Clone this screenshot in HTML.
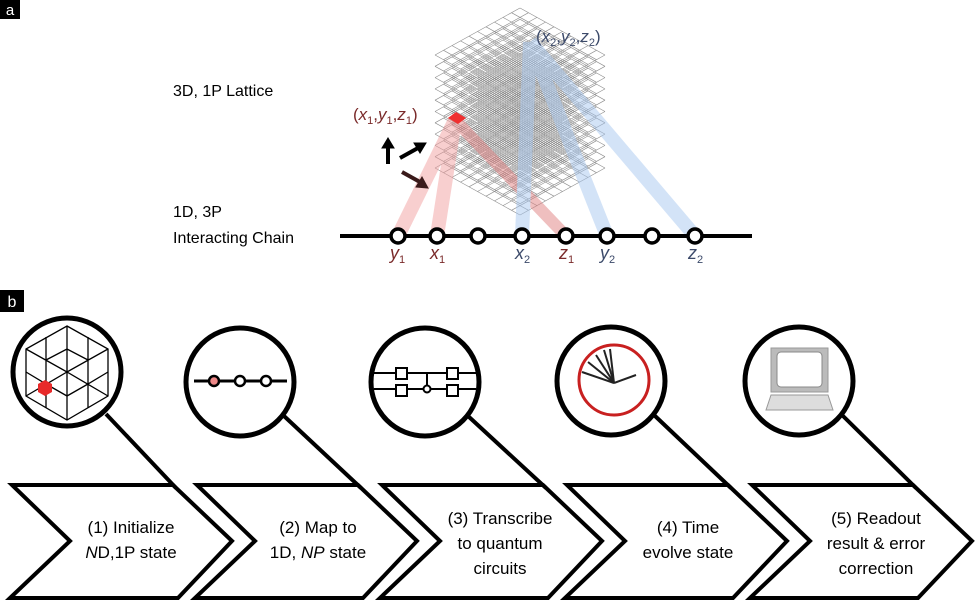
<!DOCTYPE html>
<html><head><meta charset="utf-8"><style>
body{margin:0;background:#fff;width:975px;height:603px;overflow:hidden;font-family:"Liberation Sans",sans-serif}
</style></head><body>
<svg width="975" height="603" viewBox="0 0 975 603" xmlns="http://www.w3.org/2000/svg" font-family="Liberation Sans, sans-serif">
<defs>
<g id="layer" stroke="#666" stroke-width="0.6" fill="none">
<line x1="520" y1="0" x2="435" y2="47"/>
<line x1="528.5" y1="4.7" x2="443.5" y2="51.7"/>
<line x1="537" y1="9.4" x2="452" y2="56.4"/>
<line x1="545.5" y1="14.1" x2="460.5" y2="61.1"/>
<line x1="554" y1="18.8" x2="469" y2="65.8"/>
<line x1="562.5" y1="23.5" x2="477.5" y2="70.5"/>
<line x1="571" y1="28.2" x2="486" y2="75.2"/>
<line x1="579.5" y1="32.9" x2="494.5" y2="79.9"/>
<line x1="588" y1="37.6" x2="503" y2="84.6"/>
<line x1="596.5" y1="42.3" x2="511.5" y2="89.3"/>
<line x1="605" y1="47" x2="520" y2="94"/>
<line x1="520" y1="0" x2="605" y2="47"/>
<line x1="511.5" y1="4.7" x2="596.5" y2="51.7"/>
<line x1="503" y1="9.4" x2="588" y2="56.4"/>
<line x1="494.5" y1="14.1" x2="579.5" y2="61.1"/>
<line x1="486" y1="18.8" x2="571" y2="65.8"/>
<line x1="477.5" y1="23.5" x2="562.5" y2="70.5"/>
<line x1="469" y1="28.2" x2="554" y2="75.2"/>
<line x1="460.5" y1="32.9" x2="545.5" y2="79.9"/>
<line x1="452" y1="37.6" x2="537" y2="84.6"/>
<line x1="443.5" y1="42.3" x2="528.5" y2="89.3"/>
<line x1="435" y1="47" x2="520" y2="94"/>
</g>
</defs>
<rect x="0" y="0" width="20" height="19" fill="#000"/><text x="10" y="15" fill="#fff" font-size="15" text-anchor="middle">a</text>
<rect x="0" y="290" width="24" height="22" fill="#000"/><text x="12" y="307" fill="#fff" font-size="16" text-anchor="middle">b</text>
<text x="173" y="96" font-size="16">3D, 1P Lattice</text>
<text x="173" y="217" font-size="16">1D, 3P</text>
<text x="173" y="243" font-size="16">Interacting Chain</text>
<g opacity="0.75">
<use href="#layer" y="8"/>
<use href="#layer" y="19.3"/>
<use href="#layer" y="30.6"/>
<use href="#layer" y="41.9"/>
<use href="#layer" y="53.2"/>
<use href="#layer" y="64.5"/>
<use href="#layer" y="75.8"/>
<use href="#layer" y="87.1"/>
<use href="#layer" y="98.4"/>
<use href="#layer" y="109.7"/>
<use href="#layer" y="121"/>
</g>
<g stroke-linecap="butt" opacity="0.5">
<line x1="455" y1="120" x2="398" y2="236" stroke="#f2a0a0" stroke-width="14"/>
<line x1="455" y1="120" x2="437" y2="236" stroke="#f2a0a0" stroke-width="14"/>
<line x1="455" y1="120" x2="566" y2="236" stroke="#e08080" stroke-width="12"/>
<line x1="530" y1="42" x2="522" y2="236" stroke="#a8c8f0" stroke-width="14"/>
<line x1="530" y1="42" x2="607" y2="236" stroke="#a8c8f0" stroke-width="14"/>
<line x1="530" y1="42" x2="695" y2="236" stroke="#a8c8f0" stroke-width="14"/>
</g>
<path d="M448 118 L456 112 L466 118 L458 124 Z" fill="#f03030"/>
<text x="353" y="120" font-size="17" fill="#7a2a2a">(<tspan font-style="italic">x</tspan><tspan font-size="11" dy="4">1</tspan><tspan dy="-4">,</tspan><tspan font-style="italic">y</tspan><tspan font-size="11" dy="4">1</tspan><tspan dy="-4">,</tspan><tspan font-style="italic">z</tspan><tspan font-size="11" dy="4">1</tspan><tspan dy="-4">)</tspan></text>
<text x="536" y="42" font-size="17" fill="#3c4a6a">(<tspan font-style="italic">x</tspan><tspan font-size="11" dy="4">2</tspan><tspan dy="-4">,</tspan><tspan font-style="italic">y</tspan><tspan font-size="11" dy="4">2</tspan><tspan dy="-4">,</tspan><tspan font-style="italic">z</tspan><tspan font-size="11" dy="4">2</tspan><tspan dy="-4">)</tspan></text>
<g fill="#000" stroke="#000">
<line x1="388" y1="164" x2="388" y2="146" stroke-width="4"/><path d="M382 148 L388 138 L394 148Z"/>
<line x1="400" y1="158" x2="418" y2="148" stroke-width="4"/><path d="M414 143 L426 143 L420 153Z"/>
<line x1="402" y1="172" x2="420" y2="182" stroke="#3a1a1a" stroke-width="4"/><path d="M416 187 L428 188 L422 177Z" fill="#3a1a1a" stroke="#3a1a1a"/>
</g>
<line x1="340" y1="236" x2="752" y2="236" stroke="#000" stroke-width="4"/>
<g fill="#fff" stroke="#000" stroke-width="3.5">
<circle cx="398" cy="236" r="7"/><circle cx="437" cy="236" r="7"/><circle cx="478" cy="236" r="7"/><circle cx="522" cy="236" r="7"/><circle cx="566" cy="236" r="7"/><circle cx="607" cy="236" r="7"/><circle cx="652" cy="236" r="7"/><circle cx="695" cy="236" r="7"/>
</g>
<g font-size="18" font-style="italic">
<text x="390" y="259" fill="#7a2a2a">y<tspan font-size="11" dy="4" font-style="normal">1</tspan></text>
<text x="430" y="259" fill="#7a2a2a">x<tspan font-size="11" dy="4" font-style="normal">1</tspan></text>
<text x="515" y="259" fill="#3c4a6a">x<tspan font-size="11" dy="4" font-style="normal">2</tspan></text>
<text x="559" y="259" fill="#7a2a2a">z<tspan font-size="11" dy="4" font-style="normal">1</tspan></text>
<text x="600" y="259" fill="#3c4a6a">y<tspan font-size="11" dy="4" font-style="normal">2</tspan></text>
<text x="688" y="259" fill="#3c4a6a">z<tspan font-size="11" dy="4" font-style="normal">2</tspan></text>
</g>
<g fill="#fff" stroke="#000" stroke-width="4" stroke-linejoin="miter">
<path d="M12 485 L173 485 L232 541 L178 598 L10 598 L70 541 Z"/>
<path d="M197 485 L358 485 L417 541 L363 598 L195 598 L255 541 Z"/>
<path d="M382 485 L543 485 L602 541 L548 598 L380 598 L440 541 Z"/>
<path d="M567 485 L728 485 L787 541 L733 598 L565 598 L625 541 Z"/>
<path d="M752 485 L913 485 L972 541 L918 598 L750 598 L810 541 Z"/>
</g>
<g stroke="#000" stroke-width="4">
<line x1="106" y1="414" x2="176" y2="488"/>
<line x1="284" y1="416" x2="361" y2="488"/>
<line x1="468" y1="416" x2="546" y2="488"/>
<line x1="654" y1="415" x2="731" y2="488"/>
<line x1="842" y1="415" x2="916" y2="488"/>
</g>
<g fill="#fff" stroke="#000" stroke-width="5">
<circle cx="67" cy="372" r="54"/><circle cx="240" cy="382" r="54"/><circle cx="425" cy="382" r="54"/><circle cx="611" cy="381" r="54"/><circle cx="799" cy="381" r="54"/>
</g>
<g stroke="#000" stroke-width="1.3" fill="none">
<path d="M67 326 L108 349 L108 396 L67 420 L26 396 L26 349 Z"/>
<path d="M67 326 L67 372 M26 349 L67 372 L108 349 M67 372 L67 420 M26 396 L67 372 L108 396 M46 337 L46 384 L26 372 M88 337 L88 384 L108 372 M46 384 L67 396 M88 384 L67 396 M46 408 L46 384 M88 408 L88 384 M46 360 L67 349 L88 360"/>
</g>
<path d="M45 380 L52 384 L52 392 L45 396 L38 392 L38 384Z" fill="#e82a2a"/>
<line x1="194" y1="381" x2="287" y2="381" stroke="#000" stroke-width="3"/>
<circle cx="214" cy="381" r="5" fill="#e88" stroke="#000" stroke-width="2.5"/><circle cx="240" cy="381" r="5" fill="#fff" stroke="#000" stroke-width="2.5"/><circle cx="266" cy="381" r="5" fill="#fff" stroke="#000" stroke-width="2.5"/>
<g stroke="#000" stroke-width="2" fill="#fff">
<line x1="374" y1="373" x2="476" y2="373"/><line x1="374" y1="389" x2="476" y2="389"/>
<line x1="427" y1="373" x2="427" y2="389"/>
<rect x="396" y="368" width="11" height="11"/><rect x="396" y="385" width="11" height="11"/>
<rect x="447" y="368" width="11" height="11"/><rect x="447" y="385" width="11" height="11"/>
<circle cx="427" cy="389" r="3.5"/>
</g>
<circle cx="614" cy="380" r="35" fill="none" stroke="#c82020" stroke-width="3"/>
<g stroke="#222" stroke-width="2">
<line x1="614" y1="383" x2="582" y2="372"/><line x1="614" y1="383" x2="636" y2="375"/>
<line x1="614" y1="383" x2="588" y2="362"/><line x1="614" y1="383" x2="596" y2="355"/><line x1="614" y1="383" x2="604" y2="350"/><line x1="614" y1="383" x2="610" y2="349"/>
</g>
<rect x="771" y="348" width="57" height="44" fill="#bbb" stroke="#999"/>
<rect x="777" y="352" width="45" height="35" rx="4" fill="#fff" stroke="#888"/>
<path d="M771 395 L828 395 L833 410 L766 410 Z" fill="#ddd" stroke="#999"/>
<g font-size="17" text-anchor="middle" fill="#000">
<text x="131" y="533">(1) Initialize</text><text x="131" y="558"><tspan font-style="italic">N</tspan>D,1P state</text>
<text x="318" y="533">(2) Map to</text><text x="318" y="558">1D, <tspan font-style="italic">NP</tspan> state</text>
<text x="500" y="524">(3) Transcribe</text><text x="500" y="549">to quantum</text><text x="500" y="574">circuits</text>
<text x="688" y="533">(4) Time</text><text x="688" y="558">evolve state</text>
<text x="876" y="524">(5) Readout</text><text x="876" y="549">result &amp; error</text><text x="876" y="574">correction</text>
</g>
</svg>
</body></html>
